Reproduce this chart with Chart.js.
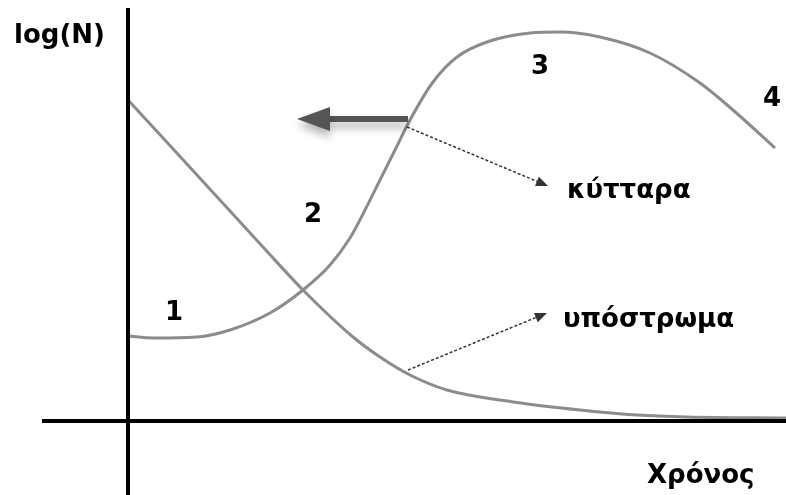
<!DOCTYPE html>
<html>
<head>
<meta charset="utf-8">
<script src="https://cdn.jsdelivr.net/npm/chart.js@4.4.0/dist/chart.umd.min.js"></script>
<style>
  body { margin: 0; background: #fff; }
  canvas { display: block; }
</style>
</head>
<body>
<canvas id="myChart" width="786" height="495"></canvas>
<script>
// values (arbitrary units: time -> right, log(N) -> up)
const cellTime = [0, 25, 69, 102, 142, 175, 202, 222, 237, 252, 267, 282, 305, 329, 359, 402, 432, 472, 522, 572, 605, 647]
const cellLogN = [85, 83, 84, 91, 108, 131, 156, 183, 211, 241, 271, 301, 339, 364, 379, 388, 389, 384, 368, 338, 311, 273]

const subTime = [0, 47, 102, 135, 175, 225, 252, 282, 319, 385, 452, 509, 559, 658]
const subLogN = [321, 270, 210, 174, 131, 84, 64, 46, 31, 19, 11, 6, 4, 3]

// axis lines
const axisX = [{x: -86, y: 0}, {x: 658, y: 0}]
const axisY = [{x: 0, y: -74}, {x: 0, y: 413}]

// labels: text, left, baseline
const labelTexts = ['log(N)', 'Χρόνος', 'κύτταρα', 'υπόστρωμα', '1', '2', '3', '4']
const labelX = [-114, 519, 439, 435, 37, 176, 403, 635]
const labelY = [378, -62, 223, 94, 101, 199, 347, 315]

// arrows: [fromX, fromY, toX, toY]
const bigArrow = [280, 302, 169, 302]
const cellArrow = [279, 294, 420, 235]
const subArrow = [280, 51, 419, 108]

const toPoints = (xs, ys) => xs.map((x, i) => ({x: x, y: ys[i]}))

const drawArrow = (ctx, x1, y1, x2, y2, headLen, headHalf) => {
    const ang = Math.atan2(y2 - y1, x2 - x1)
    const bx = x2 - headLen * Math.cos(ang)
    const by = y2 - headLen * Math.sin(ang)
    ctx.beginPath()
    ctx.moveTo(x1, y1)
    ctx.lineTo(bx, by)
    ctx.stroke()
    ctx.setLineDash([])
    ctx.beginPath()
    ctx.moveTo(x2, y2)
    ctx.lineTo(bx + headHalf * Math.sin(ang), by - headHalf * Math.cos(ang))
    ctx.lineTo(bx - headHalf * Math.sin(ang), by + headHalf * Math.cos(ang))
    ctx.closePath()
    ctx.fill()
}

const annotations = {
    id: 'annotations',
    afterDatasetsDraw(chart) {
        const ctx = chart.ctx
        const sx = chart.scales.x
        const sy = chart.scales.y
        const px = v => sx.getPixelForValue(v)
        const py = v => sy.getPixelForValue(v)

        // thick arrow with a soft shadow
        ctx.save()
        ctx.strokeStyle = '#555'
        ctx.fillStyle = '#555'
        ctx.lineWidth = 6
        ctx.shadowColor = 'rgba(0,0,0,0.3)'
        ctx.shadowBlur = 8
        ctx.shadowOffsetY = 6
        drawArrow(ctx, px(bigArrow[0]), py(bigArrow[1]), px(bigArrow[2]), py(bigArrow[3]), 33, 12)
        ctx.restore()

        // dotted pointers
        ctx.save()
        ctx.strokeStyle = '#333'
        ctx.fillStyle = '#333'
        ctx.lineWidth = 1.5
        for (const a of [cellArrow, subArrow]) {
            ctx.setLineDash([3, 2])
            drawArrow(ctx, px(a[0]), py(a[1]), px(a[2]), py(a[3]), 12, 5)
        }
        ctx.restore()

        // texts
        ctx.save()
        ctx.fillStyle = '#000'
        ctx.font = 'bold 26px "DejaVu Sans"'
        ctx.textAlign = 'left'
        ctx.textBaseline = 'alphabetic'
        labelTexts.forEach((t, i) => {
            ctx.fillText(t, px(labelX[i]), py(labelY[i]))
        })
        ctx.restore()
    }
}

const ctx = document.getElementById('myChart')
new Chart(ctx, {
    type: 'line',
    data: {
        datasets: [
            {
                label: 'κύτταρα',
                data: toPoints(cellTime, cellLogN),
                borderColor: '#8c8c8c',
                borderWidth: 3,
                pointRadius: 0,
                cubicInterpolationMode: 'monotone',
                order: 2
            },
            {
                label: 'υπόστρωμα',
                data: toPoints(subTime, subLogN),
                borderColor: '#8c8c8c',
                borderWidth: 3,
                pointRadius: 0,
                cubicInterpolationMode: 'monotone',
                order: 3
            },
            {
                label: 'axisX',
                data: axisX,
                borderColor: '#000',
                borderWidth: 4,
                pointRadius: 0,
                order: 1
            },
            {
                label: 'axisY',
                data: axisY,
                borderColor: '#000',
                borderWidth: 4,
                pointRadius: 0,
                order: 1
            }
        ]
    },
    options: {
        responsive: false,
        animation: false,
        layout: { padding: 0 },
        plugins: { legend: { display: false }, tooltip: { enabled: false } },
        scales: {
            x: { type: 'linear', min: -128, max: 658, display: false },
            y: { type: 'linear', min: -74, max: 421, display: false }
        }
    },
    plugins: [annotations]
})
</script>
</body>
</html>
